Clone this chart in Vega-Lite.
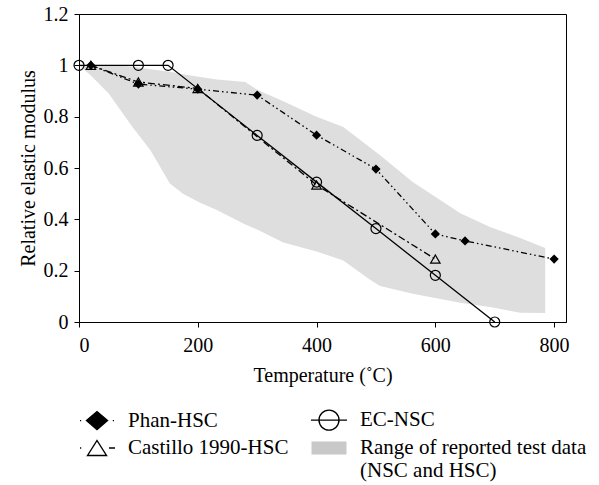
{
  "$schema": "https://vega.github.io/schema/vega-lite/v6.json",
  "width": 487,
  "height": 308,
  "autosize": "none",
  "padding": {"left": 79, "top": 14, "right": 33, "bottom": 163},
  "config": {
    "view": {"stroke": "black", "strokeWidth": 1},
    "font": "Liberation Serif",
    "style": {
      "guide-label": {"font": "Liberation Serif"},
      "guide-title": {"font": "Liberation Serif"}
    },
    "axis": {
      "domainColor": "black", "tickColor": "black", "tickSize": 5, "grid": false,
      "labelFont": "Liberation Serif", "labelFontSize": 20, "labelColor": "black",
      "titleFont": "Liberation Serif", "titleFontSize": 20, "titleFontWeight": "normal", "titleColor": "black"
    },
    "legend": {
      "orient": "none", "legendX": 7, "legendY": 395,
      "columns": 2, "symbolSize": 400, "symbolOpacity": 1, "symbolStrokeWidth": 1.4,
      "labelFont": "Liberation Serif", "labelFontSize": 21, "labelColor": "black",
      "labelOffset": 20, "labelLimit": 400, "columnPadding": 19, "rowPadding": 4
    }
  },
  "datasets": {
    "series": [
      {"series": "Phan-HSC", "t": 20, "e": 1.0},
      {"series": "Phan-HSC", "t": 100, "e": 0.927},
      {"series": "Phan-HSC", "t": 200, "e": 0.907},
      {"series": "Phan-HSC", "t": 300, "e": 0.884},
      {"series": "Phan-HSC", "t": 400, "e": 0.728},
      {"series": "Phan-HSC", "t": 500, "e": 0.596},
      {"series": "Phan-HSC", "t": 600, "e": 0.343},
      {"series": "Phan-HSC", "t": 650, "e": 0.316},
      {"series": "Phan-HSC", "t": 800, "e": 0.245},
      {"series": "Castillo 1990-HSC", "t": 20, "e": 1.0},
      {"series": "Castillo 1990-HSC", "t": 100, "e": 0.935},
      {"series": "Castillo 1990-HSC", "t": 200, "e": 0.91},
      {"series": "Castillo 1990-HSC", "t": 400, "e": 0.534},
      {"series": "Castillo 1990-HSC", "t": 600, "e": 0.245},
      {"series": "EC-NSC", "t": 0, "e": 1.0},
      {"series": "EC-NSC", "t": 100, "e": 1.0},
      {"series": "EC-NSC", "t": 150, "e": 1.0},
      {"series": "EC-NSC", "t": 300, "e": 0.727},
      {"series": "EC-NSC", "t": 400, "e": 0.545},
      {"series": "EC-NSC", "t": 500, "e": 0.364},
      {"series": "EC-NSC", "t": 600, "e": 0.182},
      {"series": "EC-NSC", "t": 700, "e": 0.0}
    ],
    "band": [
      {"t": 0, "lo": 1.0, "hi": 1.0},
      {"t": 20, "lo": 0.96, "hi": 1.0},
      {"t": 50, "lo": 0.89, "hi": 1.0},
      {"t": 90, "lo": 0.76, "hi": 0.995},
      {"t": 120, "lo": 0.67, "hi": 0.985},
      {"t": 153, "lo": 0.54, "hi": 0.975},
      {"t": 175, "lo": 0.5, "hi": 0.965},
      {"t": 204, "lo": 0.465, "hi": 0.955},
      {"t": 232, "lo": 0.436, "hi": 0.945},
      {"t": 280, "lo": 0.38, "hi": 0.935},
      {"t": 300, "lo": 0.36, "hi": 0.905},
      {"t": 344, "lo": 0.31, "hi": 0.86},
      {"t": 400, "lo": 0.275, "hi": 0.8},
      {"t": 445, "lo": 0.24, "hi": 0.76},
      {"t": 490, "lo": 0.165, "hi": 0.68},
      {"t": 507, "lo": 0.14, "hi": 0.65},
      {"t": 562, "lo": 0.11, "hi": 0.545},
      {"t": 642, "lo": 0.075, "hi": 0.424},
      {"t": 692, "lo": 0.058, "hi": 0.37},
      {"t": 743, "lo": 0.036, "hi": 0.327},
      {"t": 785, "lo": 0.035, "hi": 0.288}
    ]
  },
  "encoding": {
    "x": {"field": "t", "type": "quantitative",
      "scale": {"domain": [0, 820], "nice": false, "zero": false},
      "axis": {"values": [0, 200, 400, 600, 800], "title": "Temperature (˚C)", "labelPadding": 8, "titlePadding": 10,
        "labelFont": "Liberation Serif", "titleFont": "Liberation Serif", "labelFontSize": 20, "titleFontSize": 20}},
    "y": {"field": "e", "type": "quantitative",
      "scale": {"domain": [0, 1.2], "nice": false},
      "axis": {"values": [0, 0.2, 0.4, 0.6, 0.8, 1.0, 1.2], "format": "~g", "title": "Relative elastic modulus", "labelPadding": 6, "titlePadding": 5,
        "labelFont": "Liberation Serif", "titleFont": "Liberation Serif", "labelFontSize": 20, "titleFontSize": 20}}
  },
  "layer": [
    {
      "data": {"name": "band"},
      "mark": {"type": "area", "color": "#dedede"},
      "encoding": {
        "y": {"field": "lo", "type": "quantitative"},
        "y2": {"field": "hi"}
      }
    },
    {
      "data": {"name": "series"},
      "transform": [{"filter": "datum.series == 'Phan-HSC'"}],
      "mark": {"type": "line", "color": "black", "strokeWidth": 1.3, "strokeDash": [6, 3, 1.5, 3, 1.5, 3]}
    },
    {
      "data": {"name": "series"},
      "transform": [{"filter": "datum.series == 'Castillo 1990-HSC'"}],
      "mark": {"type": "line", "color": "black", "strokeWidth": 1.3, "strokeDash": [7, 3, 2, 3]}
    },
    {
      "data": {"name": "series"},
      "transform": [{"filter": "datum.series == 'EC-NSC'"}],
      "mark": {"type": "line", "color": "black", "strokeWidth": 1.3}
    },
    {
      "data": {"name": "series"},
      "transform": [{"filter": "datum.series == 'Phan-HSC'"}],
      "mark": {"type": "point", "shape": "diamond", "filled": true, "color": "black", "size": 85, "opacity": 1}
    },
    {
      "data": {"name": "series"},
      "transform": [{"filter": "datum.series == 'Castillo 1990-HSC'"}],
      "mark": {"type": "point", "shape": "triangle-up", "filled": false, "color": "black", "size": 90, "strokeWidth": 1.2, "opacity": 1}
    },
    {
      "data": {"name": "series"},
      "transform": [{"filter": "datum.series == 'EC-NSC'"}],
      "mark": {"type": "point", "shape": "circle", "filled": false, "color": "black", "size": 100, "strokeWidth": 1.2, "opacity": 1}
    },
    {
      "data": {"name": "series"},
      "transform": [{"filter": "false"}],
      "mark": {"type": "point", "strokeWidth": 1.4},
      "encoding": {
        "shape": {
          "field": "series", "type": "nominal", "title": null,
          "scale": {
            "domain": ["Phan-HSC", "Castillo 1990-HSC", "EC-NSC", "Range of reported test data (NSC and HSC)"],
            "range": [
              "M-1.7,0H-1.58M1.58,0H1.7M-1.05,0L0,-0.9L1.05,0L0,0.9Z",
              "M-1.7,0H-1.58M-0.95,0.75L0,-0.75L0.95,0.75ZM1.2,0H1.8",
              "M-1.8,0H1.8M1,0A1,1,0,1,1,-1,0A1,1,0,1,1,1,0Z",
              "M-1.75,-0.65H1.75V0.65H-1.75Z"
            ]
          },
          "legend": {
            "labelExpr": "datum.label == 'Range of reported test data (NSC and HSC)' ? ['Range of reported test data', '(NSC and HSC)'] : datum.label"
          }
        },
        "fill": {
          "field": "series", "type": "nominal", "title": null,
          "scale": {
            "domain": ["Phan-HSC", "Castillo 1990-HSC", "EC-NSC", "Range of reported test data (NSC and HSC)"],
            "range": ["black", "transparent", "transparent", "#c8c8c8"]
          },
          "legend": {
            "labelExpr": "datum.label == 'Range of reported test data (NSC and HSC)' ? ['Range of reported test data', '(NSC and HSC)'] : datum.label"
          }
        },
        "stroke": {
          "field": "series", "type": "nominal", "title": null,
          "scale": {
            "domain": ["Phan-HSC", "Castillo 1990-HSC", "EC-NSC", "Range of reported test data (NSC and HSC)"],
            "range": ["black", "black", "black", "transparent"]
          },
          "legend": {
            "labelExpr": "datum.label == 'Range of reported test data (NSC and HSC)' ? ['Range of reported test data', '(NSC and HSC)'] : datum.label"
          }
        }
      }
    }
  ]
}
